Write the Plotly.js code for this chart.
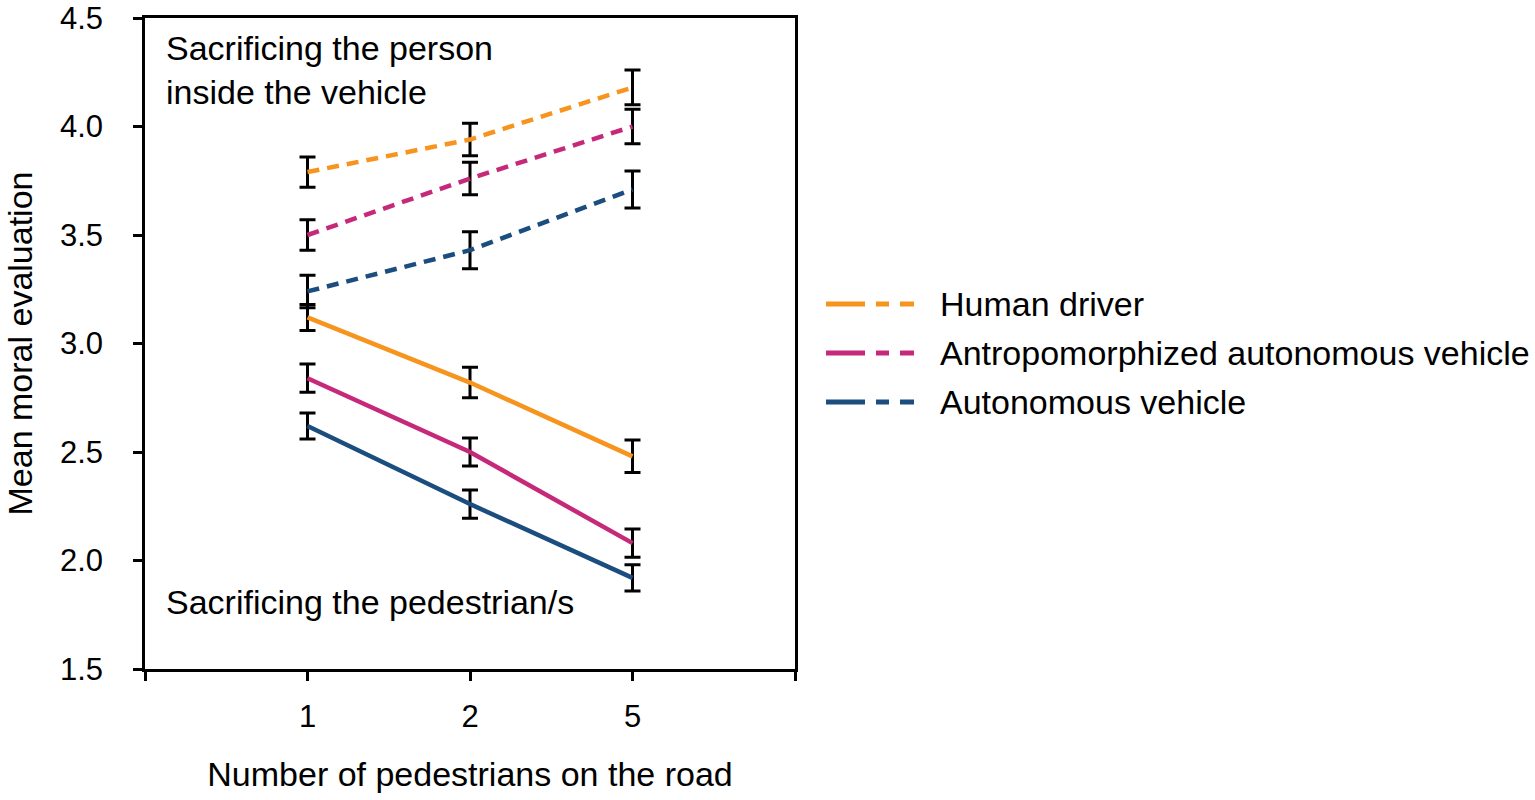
<!DOCTYPE html>
<html>
<head>
<meta charset="utf-8">
<script src="https://cdn.plot.ly/plotly-3.0.1.min.js"></script>
<style>
  html, body { margin: 0; padding: 0; background: #fff; }
  #chart { width: 1535px; height: 800px; }
</style>
</head>
<body>
<div id="chart"></div>
<script>
// Number of pedestrians (x categories)
const pedestrians = ['1', '2', '5'];

const seriesNames = ['Human driver', 'Antropomorphized autonomous vehicle', 'Autonomous vehicle'];
const seriesColors = ['#F7941D', '#C6287A', '#1B4D7E'];

// Sacrificing the person inside the vehicle (dashed)
const insideHuman = [3.79, 3.94, 4.18];
const insideAntro = [3.50, 3.76, 4.00];
const insideAuto = [3.24, 3.43, 3.71];
const insideHumanErr = [0.07, 0.075, 0.08];
const insideAntroErr = [0.07, 0.075, 0.08];
const insideAutoErr = [0.075, 0.085, 0.085];

// Sacrificing the pedestrian/s (solid)
const pedHuman = [3.12, 2.82, 2.48];
const pedAntro = [2.84, 2.50, 2.08];
const pedAuto = [2.62, 2.26, 1.92];
const pedHumanErr = [0.06, 0.07, 0.075];
const pedAntroErr = [0.065, 0.065, 0.065];
const pedAutoErr = [0.06, 0.065, 0.06];

const FONT = 'Liberation Sans, Arial, Helvetica, sans-serif';
const xPos = pedestrians.map((_, i) => i);

function makeTrace(y, err, color, dash, name) {
    return {
        x: xPos,
        y: y,
        name: name,
        type: 'scatter',
        mode: 'lines',
        line: { color: color, width: 4.5, dash: dash },
        error_y: { type: 'data', array: err, visible: true, color: '#000', thickness: 3, width: 8 },
        showlegend: false,
        hoverinfo: 'x+y'
    };
}

const data = [
    makeTrace(insideHuman, insideHumanErr, seriesColors[0], '12px,8px', seriesNames[0]),
    makeTrace(insideAntro, insideAntroErr, seriesColors[1], '12px,8px', seriesNames[1]),
    makeTrace(insideAuto, insideAutoErr, seriesColors[2], '12px,8px', seriesNames[2]),
    makeTrace(pedHuman, pedHumanErr, seriesColors[0], 'solid', seriesNames[0]),
    makeTrace(pedAntro, pedAntroErr, seriesColors[1], 'solid', seriesNames[1]),
    makeTrace(pedAuto, pedAutoErr, seriesColors[2], 'solid', seriesNames[2])
];

// plot area in pixels, used to place the hand-made legend
const L = 145, T = 18, W = 650, H = 651;
const px = v => (v - L) / W;
const py = v => (T + H - v) / H;

const shapes = [];
const annotations = [
    {
        text: 'Sacrificing the person<br>inside the vehicle',
        xref: 'paper', yref: 'paper', x: px(164), y: py(70),
        xanchor: 'left', yanchor: 'middle', align: 'left', showarrow: false,
        font: { family: FONT, size: 34, color: '#000' }
    },
    {
        text: 'Sacrificing the pedestrian/s',
        xref: 'paper', yref: 'paper', x: px(164), y: py(602),
        xanchor: 'left', yanchor: 'middle', align: 'left', showarrow: false,
        font: { family: FONT, size: 34, color: '#000' }
    }
];

const legendRows = [304, 353, 402];
seriesNames.forEach((name, i) => {
    const y = py(legendRows[i]);
    [[826, 865], [876, 889], [900, 914]].forEach(seg => {
        shapes.push({
            type: 'line', xref: 'paper', yref: 'paper',
            x0: px(seg[0]), x1: px(seg[1]), y0: y, y1: y,
            line: { color: seriesColors[i], width: 5 }
        });
    });
    annotations.push({
        text: name, xref: 'paper', yref: 'paper', x: px(938), y: y,
        xanchor: 'left', yanchor: 'middle', showarrow: false,
        font: { family: FONT, size: 34, color: '#000' }
    });
});

const layout = {
    width: 1535,
    height: 800,
    margin: { l: L, t: T, r: 1535 - L - W, b: 800 - T - H, pad: 0 },
    paper_bgcolor: '#fff',
    plot_bgcolor: '#fff',
    font: { family: FONT, size: 31, color: '#000' },
    xaxis: {
        range: [-1, 3],
        tickvals: [-1].concat(xPos, [3]),
        ticktext: [''].concat(pedestrians, ['']),
        showgrid: false,
        zeroline: false,
        showline: true,
        linecolor: '#000',
        linewidth: 2.5,
        mirror: true,
        ticks: 'outside',
        ticklen: 9,
        tickwidth: 2.5,
        tickcolor: '#000',
        ticklabelstandoff: 9,
        tickfont: { family: FONT, size: 31 },
        title: { text: 'Number of pedestrians on the road', font: { family: FONT, size: 34 }, standoff: 30 }
    },
    yaxis: {
        range: [1.5, 4.5],
        dtick: 0.5,
        tick0: 1.5,
        tickformat: '.1f',
        showgrid: false,
        zeroline: false,
        showline: true,
        linecolor: '#000',
        linewidth: 2.5,
        mirror: true,
        ticks: 'outside',
        ticklen: 9,
        tickwidth: 2.5,
        tickcolor: '#000',
        ticklabelstandoff: 24,
        tickfont: { family: FONT, size: 31 },
        title: { text: 'Mean moral evaluation', font: { family: FONT, size: 34 }, standoff: 18 }
    },
    shapes: shapes,
    annotations: annotations,
    showlegend: false
};

Plotly.newPlot('chart', data, layout, { displayModeBar: false, responsive: false });
</script>
</body>
</html>
